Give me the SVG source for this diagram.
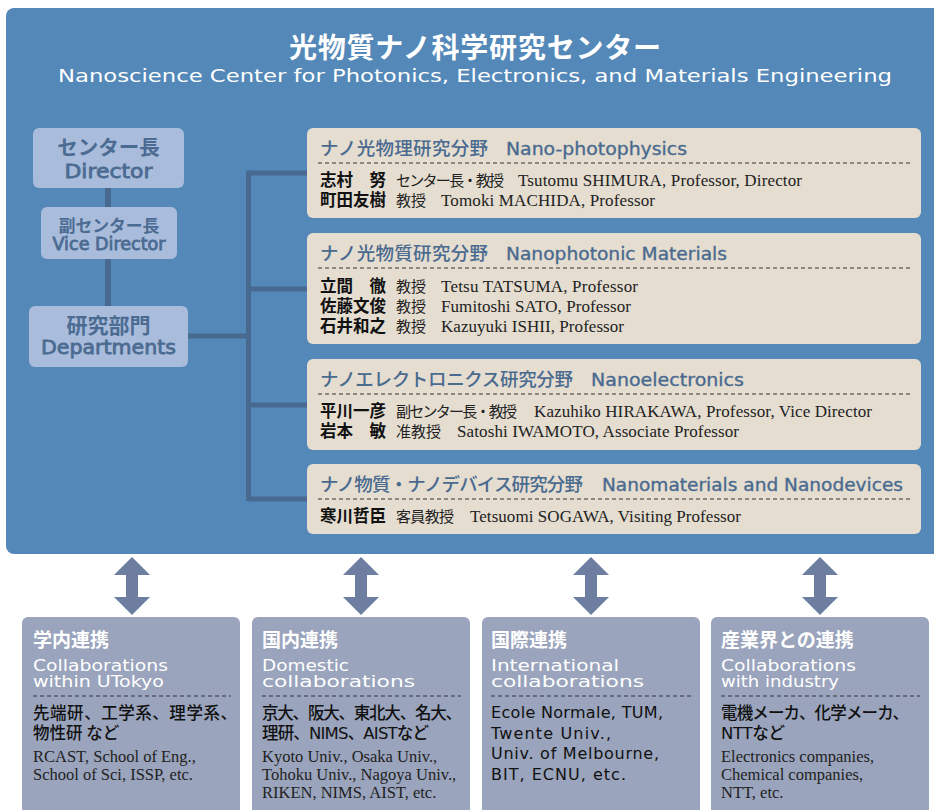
<svg xmlns="http://www.w3.org/2000/svg" width="934" height="810" viewBox="0 0 934 810">
<defs>
<style>
.jp{font-family:"Noto Sans CJK JP",sans-serif}
.en{font-family:"DejaVu Sans","Noto Sans CJK JP",sans-serif}
.sr{font-family:"Liberation Serif",serif}
.title{fill:#fff;font-weight:700;font-size:28px}
.sub{fill:#fff;font-size:18px}
.lb{fill:#a9bcdb}
.lt{fill:#4b6b92;font-weight:700;text-anchor:middle}
.le{fill:#4b6b92;stroke:#4b6b92;stroke-width:0.8;text-anchor:middle}
.con{stroke:#486a91;fill:none}
.dbox{fill:#e4ddd0}
.hd{fill:#4a6a8f;font-size:18.5px;font-weight:500}
.hde{fill:#4a6a8f;stroke:#4a6a8f;stroke-width:0.35;font-size:18.5px}
.nm{font-weight:700;font-size:16.5px;fill:#111}
.rl{font-size:15px;fill:#222}
.pe{font-size:17px;fill:#222}
.dash{stroke:#333;stroke-width:1.2;stroke-dasharray:4 3;fill:none}
.arrow{fill:#6d7ea0}
.cb{fill:#9aa4bc}
.ct{fill:#fff;font-weight:700;font-size:19px}
.cs{fill:#fff;font-size:16.5px}
.cj{fill:#111;font-size:16.5px;font-weight:500}
.ce{fill:#111;font-size:16px}
.cr{fill:#222;font-size:16.5px}
</style>
<path id="dbl" d="M0,0 L18,18 L6,18 L6,40 L18,40 L0,58 L-18,40 L-6,40 L-6,18 L-18,18 Z"/>
</defs>

<rect id="panel" x="6" y="8" width="950" height="546" rx="8" fill="#5388b8"/>

<g id="title">
<text class="jp title" x="475" y="58" text-anchor="middle" textLength="372">光物質ナノ科学研究センター</text>
<text class="en sub" x="475" y="82" text-anchor="middle" textLength="834" lengthAdjust="spacingAndGlyphs">Nanoscience Center for Photonics, Electronics, and Materials Engineering</text>
</g>

<g id="connectors">
<path class="con" stroke-width="6" d="M108,188 V306"/>
<path class="con" stroke-width="5" d="M188,336 H248.5 M248.5,171 V501 M246,173 H307 M248.5,289 H307 M248.5,405 H307 M248.5,499 H307"/>
<use href="#dbl" class="arrow" x="132" y="557"/>
<use href="#dbl" class="arrow" x="361" y="557"/>
<use href="#dbl" class="arrow" x="591" y="557"/>
<use href="#dbl" class="arrow" x="820" y="557"/>
</g>

<g id="director">
<rect class="lb" x="33" y="128" width="151" height="60" rx="6"/>
<text class="jp lt" x="108.5" y="155" font-size="20.5">センター長</text>
<text class="en le" x="108.5" y="178" font-size="20" textLength="88" lengthAdjust="spacingAndGlyphs">Director</text>
</g>
<g id="vice-director">
<rect class="lb" x="41" y="207" width="136" height="52" rx="6"/>
<text class="jp lt" x="109" y="232" font-size="16.8">副センター長</text>
<text class="en le" x="109" y="250" font-size="17" textLength="113" lengthAdjust="spacingAndGlyphs">Vice Director</text>
</g>
<g id="departments">
<rect class="lb" x="29" y="306" width="159" height="61" rx="6"/>
<text class="jp lt" x="108.5" y="333" font-size="21">研究部門</text>
<text class="en le" x="108.5" y="354" font-size="20" textLength="135" lengthAdjust="spacingAndGlyphs">Departments</text>
</g>

<g id="nano-photophysics">
<rect class="dbox" x="307" y="128" width="614" height="90" rx="6"/>
<text class="jp hd" x="320" y="155" textLength="168">ナノ光物理研究分野</text>
<text class="en hde" x="506" y="155" textLength="181" lengthAdjust="spacingAndGlyphs">Nano-photophysics</text>
<line class="dash" x1="318" y1="163" x2="912" y2="163"/>
<text class="jp nm" x="320" y="186" textLength="66">志村　努</text>
<text class="jp rl" x="396" y="186" textLength="108">センター長・教授</text>
<text class="sr pe" x="518" y="186" textLength="284">Tsutomu SHIMURA, Professor, Director</text>
<text class="jp nm" x="320" y="206" textLength="66">町田友樹</text>
<text class="jp rl" x="396" y="206">教授</text>
<text class="sr pe" x="441" y="206" textLength="214">Tomoki MACHIDA, Professor</text>
</g>

<g id="nanophotonic-materials">
<rect class="dbox" x="307" y="233" width="614" height="111" rx="6"/>
<text class="jp hd" x="320" y="260" textLength="168">ナノ光物質研究分野</text>
<text class="en hde" x="506" y="260" textLength="221" lengthAdjust="spacingAndGlyphs">Nanophotonic Materials</text>
<line class="dash" x1="318" y1="268" x2="912" y2="268"/>
<text class="jp nm" x="320" y="292" textLength="66">立間　徹</text>
<text class="jp rl" x="396" y="292">教授</text>
<text class="sr pe" x="441" y="292" textLength="197">Tetsu TATSUMA, Professor</text>
<text class="jp nm" x="320" y="312" textLength="66">佐藤文俊</text>
<text class="jp rl" x="396" y="312">教授</text>
<text class="sr pe" x="441" y="312" textLength="190">Fumitoshi SATO, Professor</text>
<text class="jp nm" x="320" y="332" textLength="66">石井和之</text>
<text class="jp rl" x="396" y="332">教授</text>
<text class="sr pe" x="441" y="332" textLength="183">Kazuyuki ISHII, Professor</text>
</g>

<g id="nanoelectronics">
<rect class="dbox" x="307" y="359" width="614" height="91" rx="6"/>
<text class="jp hd" x="320" y="386" textLength="253">ナノエレクトロニクス研究分野</text>
<text class="en hde" x="591" y="386" textLength="153" lengthAdjust="spacingAndGlyphs">Nanoelectronics</text>
<line class="dash" x1="318" y1="394" x2="912" y2="394"/>
<text class="jp nm" x="320" y="417" textLength="66">平川一彦</text>
<text class="jp rl" x="396" y="417" textLength="121">副センター長・教授</text>
<text class="sr pe" x="534" y="417" textLength="338">Kazuhiko HIRAKAWA, Professor, Vice Director</text>
<text class="jp nm" x="320" y="437" textLength="66">岩本　敏</text>
<text class="jp rl" x="396" y="437">准教授</text>
<text class="sr pe" x="457" y="437" textLength="282">Satoshi IWAMOTO, Associate Professor</text>
</g>

<g id="nanomaterials-nanodevices">
<rect class="dbox" x="307" y="464" width="614" height="70" rx="6"/>
<text class="jp hd" x="320" y="491" textLength="263">ナノ物質・ナノデバイス研究分野</text>
<text class="en hde" x="602" y="491" textLength="301" lengthAdjust="spacingAndGlyphs">Nanomaterials and Nanodevices</text>
<line class="dash" x1="318" y1="499" x2="912" y2="499"/>
<text class="jp nm" x="320" y="522" textLength="66">寒川哲臣</text>
<text class="jp rl" x="396" y="522" textLength="58">客員教授</text>
<text class="sr pe" x="470" y="522" textLength="271">Tetsuomi SOGAWA, Visiting Professor</text>
</g>

<g id="collab-utokyo">
<rect class="cb" x="22" y="617" width="218" height="210" rx="6"/>
<text class="jp ct" x="33" y="647">学内連携</text>
<text class="en cs" x="33" y="671" textLength="135" lengthAdjust="spacingAndGlyphs">Collaborations</text>
<text class="en cs" x="33" y="687" textLength="131" lengthAdjust="spacingAndGlyphs">within UTokyo</text>
<line class="dash" x1="33" y1="696" x2="231" y2="696" stroke-dasharray="5 3"/>
<text class="jp cj" x="33" y="719" textLength="204">先端研、工学系、理学系、</text>
<text class="jp cj" x="33" y="739">物性研 など</text>
<text class="sr cr" x="33" y="762">RCAST, School of Eng.,</text>
<text class="sr cr" x="33" y="780">School of Sci, ISSP, etc.</text>
</g>

<g id="collab-domestic">
<rect class="cb" x="252" y="617" width="218" height="210" rx="6"/>
<text class="jp ct" x="262" y="647">国内連携</text>
<text class="en cs" x="262" y="671" textLength="87" lengthAdjust="spacingAndGlyphs">Domestic</text>
<text class="en cs" x="262" y="687" textLength="153" lengthAdjust="spacingAndGlyphs">collaborations</text>
<line class="dash" x1="262" y1="696" x2="461" y2="696" stroke-dasharray="5 3"/>
<text class="jp cj" x="262" y="719" textLength="200">京大、阪大、東北大、名大、</text>
<text class="en cj" x="262" y="739" textLength="167">理研、NIMS、AISTなど</text>
<text class="sr cr" x="262" y="762">Kyoto Univ., Osaka Univ.,</text>
<text class="sr cr" x="262" y="780">Tohoku Univ., Nagoya Univ.,</text>
<text class="sr cr" x="262" y="798">RIKEN, NIMS, AIST, etc.</text>
</g>

<g id="collab-international">
<rect class="cb" x="482" y="617" width="218" height="210" rx="6"/>
<text class="jp ct" x="491" y="647">国際連携</text>
<text class="en cs" x="491" y="671" textLength="128" lengthAdjust="spacingAndGlyphs">International</text>
<text class="en cs" x="491" y="687" textLength="153" lengthAdjust="spacingAndGlyphs">collaborations</text>
<line class="dash" x1="491" y1="696" x2="691" y2="696" stroke-dasharray="5 3"/>
<text class="en ce" x="491" y="718" textLength="172">Ecole Normale, TUM,</text>
<text class="en ce" x="491" y="739" textLength="120">Twente Univ.,</text>
<text class="en ce" x="491" y="759" textLength="168">Univ. of Melbourne,</text>
<text class="en ce" x="491" y="780" textLength="135">BIT, ECNU, etc.</text>
</g>

<g id="collab-industry">
<rect class="cb" x="711" y="617" width="218" height="210" rx="6"/>
<text class="jp ct" x="721" y="647">産業界との連携</text>
<text class="en cs" x="721" y="671" textLength="135" lengthAdjust="spacingAndGlyphs">Collaborations</text>
<text class="en cs" x="721" y="687" textLength="118" lengthAdjust="spacingAndGlyphs">with industry</text>
<line class="dash" x1="721" y1="696" x2="920" y2="696" stroke-dasharray="5 3"/>
<text class="jp cj" x="721" y="719" textLength="188">電機メーカ、化学メーカ、</text>
<text class="en cj" x="721" y="739" textLength="64">NTTなど</text>
<text class="sr cr" x="721" y="762">Electronics companies,</text>
<text class="sr cr" x="721" y="780">Chemical companies,</text>
<text class="sr cr" x="721" y="798">NTT, etc.</text>
</g>
</svg>
